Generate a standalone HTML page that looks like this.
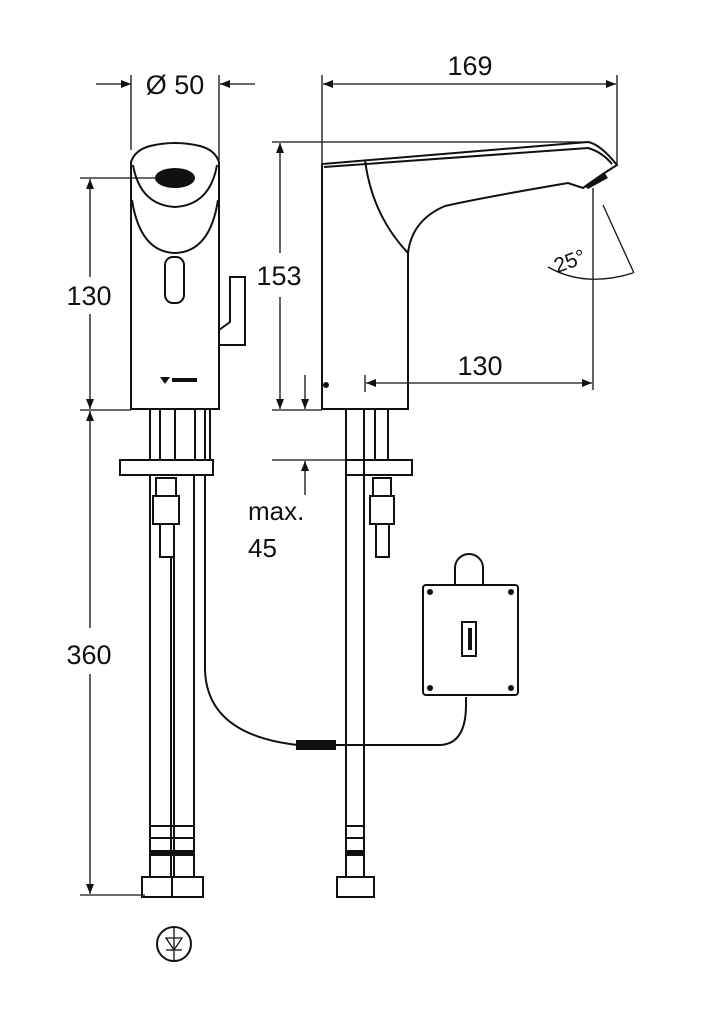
<!DOCTYPE html>
<html><head><meta charset="utf-8"><style>
html,body{margin:0;padding:0;background:#fff;}
svg{display:block;}
text{font-family:"Liberation Sans","DejaVu Sans",sans-serif;fill:#111;}
</style></head><body>
<svg width="709" height="1024" viewBox="0 0 709 1024" xmlns="http://www.w3.org/2000/svg">
<defs>
<marker id="a" viewBox="0 0 10 10" refX="10" refY="5" markerWidth="10" markerHeight="10" orient="auto-start-reverse" markerUnits="userSpaceOnUse"><path d="M0,1 L10,5 L0,9 z" fill="#111"/></marker>
</defs>
<g stroke="#111" fill="none" stroke-width="1.3">
<line x1="131" y1="75" x2="131" y2="150"/>
<line x1="219" y1="75" x2="219" y2="160"/>
<line x1="96" y1="84" x2="131" y2="84" marker-end="url(#a)"/>
<line x1="255" y1="84" x2="220" y2="84" marker-end="url(#a)"/>
<line x1="80" y1="178" x2="175" y2="178"/>
<line x1="80" y1="410" x2="131" y2="410"/>
<line x1="80" y1="895" x2="145" y2="895"/>
<line x1="90" y1="277" x2="90" y2="179" marker-end="url(#a)"/>
<line x1="90" y1="314" x2="90" y2="409" marker-end="url(#a)"/>
<line x1="90" y1="628" x2="90" y2="411" marker-end="url(#a)"/>
<line x1="90" y1="674" x2="90" y2="894" marker-end="url(#a)"/>
<line x1="272" y1="142" x2="590" y2="142"/>
<line x1="272" y1="410" x2="322" y2="410"/>
<line x1="280" y1="253" x2="280" y2="143" marker-end="url(#a)"/>
<line x1="280" y1="297" x2="280" y2="409" marker-end="url(#a)"/>
<line x1="272" y1="460" x2="348" y2="460"/>
<line x1="305" y1="375" x2="305" y2="409" marker-end="url(#a)"/>
<line x1="305" y1="495" x2="305" y2="461" marker-end="url(#a)"/>
<line x1="322" y1="75" x2="322" y2="165"/>
<line x1="617" y1="75" x2="617" y2="165"/>
<line x1="323" y1="84" x2="616" y2="84" marker-start="url(#a)" marker-end="url(#a)"/>
<line x1="365" y1="375" x2="365" y2="392"/>
<line x1="593" y1="188" x2="593" y2="390"/>
<line x1="366" y1="383" x2="592" y2="383" marker-start="url(#a)" marker-end="url(#a)"/>
<line x1="603" y1="205" x2="634" y2="273"/>
<path d="M548,267 Q585,288 633,273"/>
<g stroke-width="2">
<path d="M131,409 L131,162 Q135,150 150,146 Q175,140 200,146 Q215,150 219,162 L219,409 Z"/>
<path d="M133,165 Q140,205 175,207 Q210,205 217,165"/>
<path d="M132,200 Q140,252 175,253 Q210,252 218,200"/>
<rect x="165" y="257" width="19" height="46" rx="8"/>
<path d="M219,335 L219,345 L245,345 L245,277 L230,277 L230,322 L219,330"/>
<path d="M322,409 L322,164 L588,142 Q600,144 617,165 L606,172 L583,188 L568,183 Q480,198 445,206 Q412,220 408,253 L408,409 Z"/>
<path d="M324,167 L588,148 Q602,152 612,164"/>
<path d="M365,160 Q372,215 408,253"/>
<path d="M150,410 L150,460 M160,410 L160,460 M175,410 L175,460 M195,410 L195,460 M205,410 L205,460 M210,410 L210,460"/>
<path d="M120,460 L213,460 L213,475 L120,475 Z"/>
<rect x="156" y="478" width="20" height="18"/>
<rect x="153" y="496" width="26" height="28"/>
<rect x="160" y="524" width="14" height="33"/>
<path d="M150,475 L150,877 M171,557 L171,877 M174,557 L174,877 M194,475 L194,877 M205,475 L205,670 Q207,735 298,745"/>
<path d="M346,410 L346,877 M364,410 L364,877 M375,410 L375,460 M388,410 L388,460"/>
<path d="M346,460 L412,460 L412,475 L346,475"/>
<rect x="373" y="478" width="18" height="18"/>
<rect x="370" y="496" width="24" height="28"/>
<rect x="376" y="524" width="13" height="33"/>
<path d="M150,826 L194,826 M150,838 L194,838 M346,826 L364,826 M346,838 L364,838"/>
<rect x="142" y="877" width="61" height="20"/>
<line x1="172" y1="877" x2="172" y2="897"/>
<rect x="337" y="877" width="37" height="20"/>
<rect x="423" y="585" width="95" height="110" rx="3"/>
<path d="M455,585 L455,568 A14,14 0 0 1 483,568 L483,585"/>
<path d="M466,697 L466,705 Q466,744 440,745 L336,745"/>
<rect x="462" y="622" width="14" height="34"/>
<circle cx="174" cy="944" r="17"/>
</g>
<line x1="174" y1="928" x2="174" y2="960"/>
<path d="M166,938 L182,938 L174,950 Z"/>
<line x1="166" y1="950" x2="182" y2="950"/>
</g>
<g fill="#111">
<ellipse cx="175" cy="178" rx="20" ry="10"/>
<path d="M584,186 L604,172 L608,178 L588,189 Z"/>
<path d="M150,850 L194,850 L194,856 L150,856 Z M346,850 L364,850 L364,856 L346,856 Z"/>
<rect x="296" y="740" width="40" height="10"/>
<path d="M160,377 L170,377 L165,384 Z"/><rect x="172" y="378" width="25" height="4"/>
<circle cx="430" cy="592" r="3"/><circle cx="511" cy="592" r="3"/><circle cx="430" cy="688" r="3"/><circle cx="511" cy="688" r="3"/>
<rect x="468" y="628" width="4" height="22"/>
<circle cx="326" cy="385" r="3"/>
</g>
<text x="175" y="94" font-size="27" text-anchor="middle">Ø 50</text>
<text x="470" y="75" font-size="27" text-anchor="middle">169</text>
<text x="89" y="305" font-size="27" text-anchor="middle">130</text>
<text x="279" y="285" font-size="27" text-anchor="middle">153</text>
<text x="480" y="375" font-size="27" text-anchor="middle">130</text>
<text x="89" y="664" font-size="27" text-anchor="middle">360</text>
<text x="248" y="520" font-size="26">max.</text>
<text x="248" y="557" font-size="26">45</text>
<text x="570" y="268" font-size="21" text-anchor="middle" transform="rotate(-20 570 262)">25°</text>
</svg>
</body></html>
